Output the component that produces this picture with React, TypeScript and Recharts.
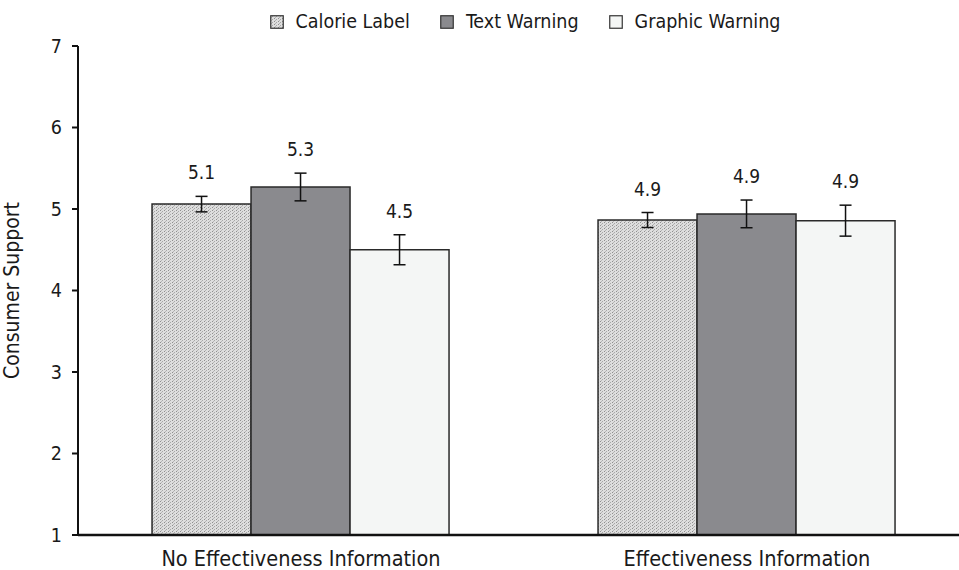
import React from 'react';
import { BarChart, Bar, XAxis, YAxis, ErrorBar, LabelList, Label } from 'recharts';

const categories = ['No Effectiveness Information', 'Effectiveness Information'];
const calorieLabel = [5.06, 4.865];
const textWarning = [5.27, 4.94];
const graphicWarning = [4.5, 4.857];
const calorieErr = [0.095, 0.092];
const textErr = [0.17, 0.17];
const graphicErr = [0.184, 0.19];
const yTicks = [1, 2, 3, 4, 5, 6, 7];

const data = categories.map((c, i) => ({
  name: c,
  calorie: calorieLabel[i],
  text: textWarning[i],
  graphic: graphicWarning[i],
  calorieErr: calorieErr[i],
  textErr: textErr[i],
  graphicErr: graphicErr[i],
}));

const FONT = '"DejaVu Sans Condensed", "Liberation Sans Narrow", "Liberation Sans", sans-serif';

const makeLabel = (errs: number[]) => (props: any) => {
  const { x, y, width, height, value, index } = props;
  const pxPerUnit = height / (value - 1);
  const errPx = errs[index] * pxPerUnit;
  const cy = y - errPx - 24;
  return (
    <text x={x + width / 2} y={cy} textAnchor="middle" dominantBaseline="central"
      fontFamily={FONT} fontSize={19} fill="#1a1a1a">
      {Number(value).toFixed(1)}
    </text>
  );
};

const legendItems = [
  { label: 'Calorie Label', fill: 'url(#dots)' },
  { label: 'Text Warning', fill: '#8a8a8e' },
  { label: 'Graphic Warning', fill: '#f4f6f5' },
];

const LegendBox = () => (
  <div style={{ position: 'absolute', top: 10, left: 0, width: 1050, height: 24, display: 'flex', justifyContent: 'center', gap: 30, fontFamily: FONT, fontSize: 19.5, lineHeight: '24px', color: '#1a1a1a' }}>
    {legendItems.map((it) => (
      <div key={it.label} style={{ display: 'flex', alignItems: 'center', gap: 12 }}>
        <svg width={14} height={14}>
          <defs>
            <pattern id={'ld' + it.label.length} x={0} y={0} width={4} height={3} patternUnits="userSpaceOnUse">
              <rect x={0} y={0} width={4} height={3} fill="#dedede" />
              <rect x={0} y={0} width={1} height={1} fill="#8f8f8f" />
              <rect x={2} y={1} width={1} height={1} fill="#a8a8a8" />
              <rect x={1} y={2} width={1} height={1} fill="#b5b5b5" />
            </pattern>
          </defs>
          <rect x={0.75} y={0.75} width={12.5} height={12.5}
            fill={it.fill.startsWith('url') ? `url(#ld${it.label.length})` : it.fill}
            stroke="#333" strokeWidth={1.2} />
        </svg>
        <span>{it.label}</span>
      </div>
    ))}
  </div>
);

export default function App() {
  return (
    <div style={{ position: 'absolute', left: 0, top: 0, width: 959, height: 570, overflow: 'hidden', background: '#fff' }}>
      <BarChart width={975} height={570} data={data}
        margin={{ top: 46, right: 5, bottom: 0, left: 0 }}
        barCategoryGap="16.6%" barGap={0}>
        <defs>
          <pattern id="dots" x={0} y={0} width={4} height={3} patternUnits="userSpaceOnUse">
            <rect x={0} y={0} width={4} height={3} fill="#dedede" />
            <rect x={0} y={0} width={1} height={1} fill="#8f8f8f" />
            <rect x={2} y={1} width={1} height={1} fill="#a8a8a8" />
            <rect x={1} y={2} width={1} height={1} fill="#b5b5b5" />
          </pattern>
        </defs>
        <XAxis dataKey="name" axisLine={{ stroke: '#111', strokeWidth: 2.5 }} tickLine={false}
          tickSize={0} tickMargin={16} height={35} interval={0}
          tick={{ fontFamily: FONT, fontSize: 21.5, fill: '#1a1a1a' }} />
        <YAxis domain={[1, 7]} ticks={yTicks} width={78} tickSize={6} tickMargin={10}
          axisLine={{ stroke: '#111', strokeWidth: 2 }} tickLine={{ stroke: '#111', strokeWidth: 2 }}
          tick={{ fontFamily: FONT, fontSize: 19.5, fill: '#1a1a1a' }} allowDataOverflow>
          <Label value="Consumer Support" angle={-90} position="insideLeft" offset={12}
            style={{ textAnchor: 'middle', fontFamily: FONT, fontSize: 21, fill: '#1a1a1a' }} />
        </YAxis>
        <Bar dataKey="calorie" fill="url(#dots)" stroke="#2a2a2a" strokeWidth={1.5} isAnimationActive={false}>
          <ErrorBar dataKey="calorieErr" width={6} stroke="#111" strokeWidth={1.5} />
          <LabelList dataKey="calorie" content={makeLabel(calorieErr)} />
        </Bar>
        <Bar dataKey="text" fill="#8a8a8e" stroke="#2a2a2a" strokeWidth={1.5} isAnimationActive={false}>
          <ErrorBar dataKey="textErr" width={6} stroke="#111" strokeWidth={1.5} />
          <LabelList dataKey="text" content={makeLabel(textErr)} />
        </Bar>
        <Bar dataKey="graphic" fill="#f4f6f5" stroke="#2a2a2a" strokeWidth={1.5} isAnimationActive={false}>
          <ErrorBar dataKey="graphicErr" width={6} stroke="#111" strokeWidth={1.5} />
          <LabelList dataKey="graphic" content={makeLabel(graphicErr)} />
        </Bar>
      </BarChart>
      <LegendBox />
    </div>
  );
}
